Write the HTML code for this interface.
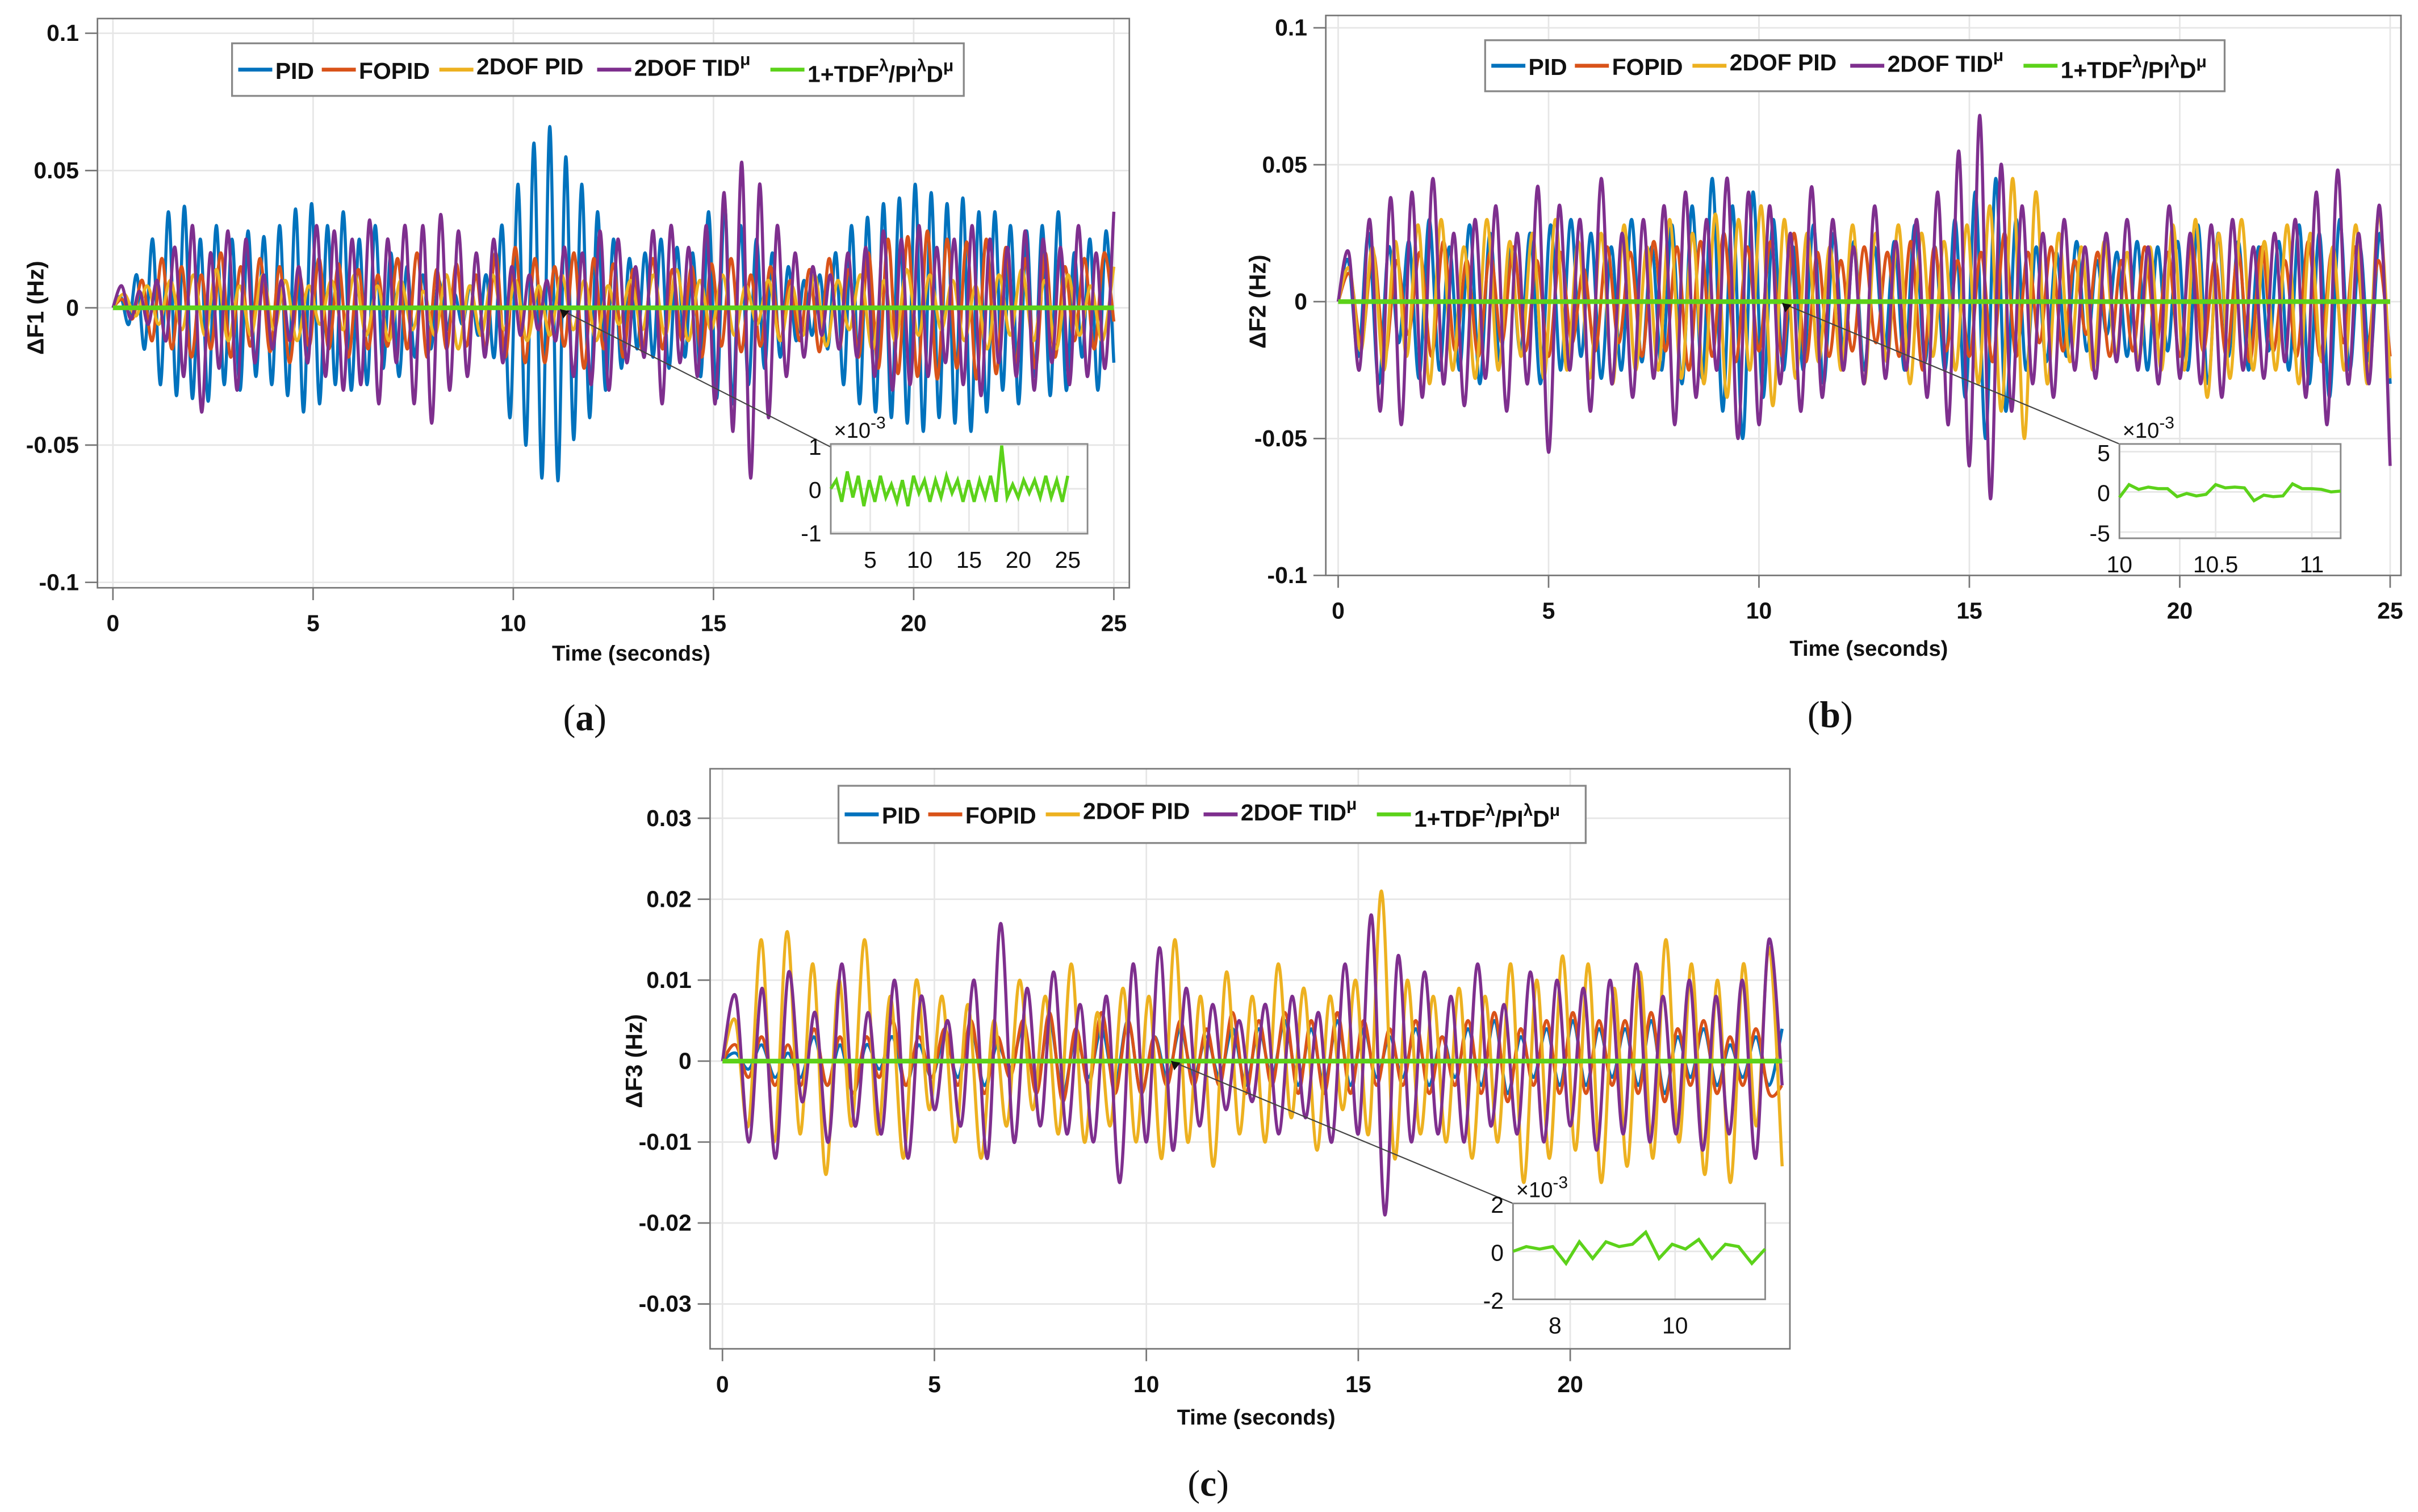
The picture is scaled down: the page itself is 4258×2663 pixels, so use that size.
<!DOCTYPE html>
<html><head><meta charset="utf-8">
<style>
html,body{margin:0;padding:0;background:#fff;}
svg{display:block;}
text{font-family:"Liberation Sans",sans-serif;fill:#111;}
.tk{font-size:15px;font-weight:bold;}
.lg{font-size:15px;font-weight:bold;}
.cap{font-family:"Liberation Serif",serif;font-size:24px;}
</style></head>
<body>
<svg id="fig" width="4258" height="2663" viewBox="0 0 1563 977.5" preserveAspectRatio="none" xmlns="http://www.w3.org/2000/svg"></svg>
<script>
// ---- data (values in units of 0.001 Hz) ----
const DURATION = 25;
const colors = ["#0072BD","#D95319","#EDB120","#7E2F8E","#5CD21A"];
const seriesNames = ["PID","FOPID","2DOF PID","2DOF TID","1+TDF/PID"];
const a_PID = [0,4,-6,12,-15,25,-28,35,-32,37,-33,25,-34,30,-28,25,-30,28,-25,26,-28,30,-32,36,-38,38,-35,30,-28,35,-30,25,-28,30,-22,20,-25,15,-18,12,-15,10,-8,5,-6,8,-10,12,-18,30,-40,45,-50,60,-62,66,-63,55,-48,45,-40,35,-30,25,-22,18,-15,20,-18,25,-22,22,-18,20,-25,35,-33,38,-35,30,-28,25,-22,20,-18,15,-12,10,-10,12,-15,20,-28,30,-35,33,-38,38,-40,40,-42,45,-45,42,-40,38,-42,40,-45,35,-38,35,-30,30,-35,28,-25,30,-32,35,-30,20,-18,25,-30,28,-20];
const a_FOPID = [0,3,-4,10,-12,18,-15,15,-18,12,-15,20,-18,15,-14,18,-16,15,-20,12,-14,18,-15,16,-18,14,-15,12,-14,18,-15,20,-18,14,-15,16,-14,12,-15,20,-18,22,-20,18,-20,15,-14,20,-22,18,-15,16,-18,14,-16,18,-15,14,-12,15,-18,16,-14,18,-16,12,-14,15,-12,10,-12,14,-16,18,-15,14,-18,20,-22,25,-24,26,-25,28,-26,25,-22,24,-26,25,-24,22,-20,18,-22,20,-18,15,-12,18,-15,20,-5];
const a_2DOF = [0,5,-3,8,-6,10,-8,12,-10,14,-12,8,-10,12,-8,10,-12,8,-6,10,-8,12,-10,8,-12,10,-8,6,-10,12,-15,8,-10,12,-8,10,-12,8,-10,12,-8,10,-12,8,-6,10,-8,12,-10,14,-12,10,-8,12,-10,8,-6,10,-12,8,-10,12,-14,10,-8,12,-15,10,-12,14,-10,12,-8,10,-12,8,-15,12,-10,14,-12,10,-15,12,-10,8,-12,15];
const a_TID = [0,8,-4,6,-6,10,-12,22,-25,30,-38,20,-22,28,-30,25,-20,12,-15,10,-12,15,-20,30,-25,28,-30,25,-28,32,-35,25,-20,30,-35,30,-42,34,-30,28,-25,20,-18,25,-20,15,-10,12,-8,10,-12,22,-25,20,-28,28,-30,25,-20,15,-18,28,-35,30,-20,22,-25,30,-35,42,-45,53,-62,45,-40,30,-25,20,-18,15,-10,12,-15,20,-18,22,-25,28,-30,25,-28,30,-25,22,-20,25,-28,30,-32,25,-20,22,-25,28,-30,25,-20,22,-28,30,-25,20,-22,35];
const b_PID = [0,15,-20,25,-30,20,-15,22,-28,30,-25,20,-25,28,-30,25,-22,20,-18,25,-30,28,-25,30,-20,25,-28,20,-25,30,-22,20,-25,28,-30,35,-28,45,-40,35,-50,40,-35,30,-25,20,-25,28,-30,25,-20,22,-25,20,-18,22,-25,28,-22,20,-25,30,-35,40,-50,45,-40,30,-25,20,-22,18,-20,22,-18,15,-12,18,-20,22,-25,20,-18,22,-25,28,-30,25,-20,22,-25,20,-18,22,-25,28,-30,25,-35,30,-25,20,-22,25,-30];
const b_FOPID = [0,10,-15,18,-20,15,-12,18,-20,22,-18,15,-20,18,-15,20,-18,15,-20,18,-15,12,-18,20,-15,18,-20,22,-18,20,-25,22,-20,25,-22,20,-18,22,-20,25,-22,18,-20,15,-18,20,-15,18,-20,22,-25,20,-18,15,-20,18,-22,25,-20,18,-15,20,-18,15,-12,18,-20,15,-18,20,-15,18,-20,22,-18,15,-20,18,-22,20,-18,15,-20,22,-20,18,-15,20,-18,15,-20];
const b_2DOF = [0,12,-18,20,-25,22,-20,28,-30,30,-25,20,-28,30,-25,22,-20,25,-28,30,-25,22,-28,25,-30,28,-25,20,-25,30,-28,25,-30,32,-35,30,-25,35,-38,30,-28,25,-22,20,-25,28,-30,25,-22,28,-30,25,-20,22,-25,28,-30,35,-40,45,-50,40,-30,25,-22,20,-25,22,-20,18,-22,20,-25,28,-25,30,-35,25,-28,30,-25,22,-25,28,-30,25,-22,20,-25,28,-30,32,-28];
const b_TID = [0,18,-25,30,-40,38,-45,40,-35,45,-30,25,-38,30,-28,35,-40,25,-30,42,-55,35,-25,30,-40,45,-30,25,-35,30,-28,35,-45,40,-35,30,-25,45,-50,40,-45,35,-30,25,-40,42,-35,30,-25,20,-30,35,-28,22,-25,30,-35,40,-45,55,-60,68,-72,50,-40,35,-30,25,-35,30,-25,20,-28,25,-22,30,-25,20,-30,35,-28,25,-30,28,-35,30,-25,20,-28,25,-22,30,-35,40,-45,48,-30,25,-30,35,-60];
const c_PID = [0,1,-1,2,-2,1,-2,3,-3,2,-4,2,-1,3,-3,2,-2,3,-2,4,-3,2,-1,4,-3,5,-4,3,-2,4,-3,5,-4,3,-2,4,-2,3,-2,4,-3,4,-2,5,-3,4,-3,5,-3,4,-2,3,-2,4,-3,3,-2,4,-3,5,-4,3,-2,4,-3,5,-3,4,-2,4,-3,5,-4,3,-2,4,-3,2,-2,3,-3,4];
const c_FOPID = [0,2,-2,3,-3,2,-3,4,-3,3,-4,3,-2,5,-3,3,-2,4,-3,5,-4,3,-2,5,-4,6,-5,4,-3,6,-4,5,-4,3,-3,5,-3,4,-3,6,-4,5,-3,6,-4,5,-4,6,-4,5,-3,4,-3,5,-4,3,-3,5,-4,6,-5,4,-3,5,-4,6,-4,5,-3,5,-4,6,-5,4,-3,5,-4,3,-3,4,-4,-3];
const c_2DOF = [0,5,-8,15,-10,16,-9,12,-14,10,-8,15,-9,8,-12,10,-6,8,-10,7,-12,5,-8,10,-6,8,-9,12,-10,6,-8,9,-10,8,-12,15,-10,8,-13,11,-9,8,-10,12,-7,9,-11,8,-6,10,-9,21,-12,10,-9,8,-10,9,-12,8,-10,12,-15,10,-12,13,-11,12,-15,9,-13,11,-12,15,-10,12,-14,10,-15,12,-8,14,-13];
const c_TID = [0,8,-10,9,-12,11,-5,6,-10,12,-8,6,-9,10,-12,8,-6,5,-8,10,-12,17,-10,9,-8,11,-9,7,-10,8,-15,12,-10,14,-11,9,-8,7,-6,5,-5,7,-9,8,-7,6,-10,12,-9,18,-19,13,-10,11,-9,8,-10,12,-8,7,-9,11,-10,10,-8,9,-11,10,-9,12,-10,8,-9,10,-11,8,-9,10,-12,15,-3];
const green_a = [0,0.2,-0.3,0.4,-0.2,0.3,-0.4,0.2,-0.3,0.3,-0.2,0.1,-0.3,0.2,-0.4,0.3,-0.1,0.2,-0.3,0.2,-0.2,0.3,-0.1,0.2,-0.3,0.2,-0.3,0.2,-0.2,0.3,-0.3,1.0,-0.2,0.1,-0.2,0.2,-0.1,0.2,-0.2,0.3,-0.2,0.2,-0.3,0.3];
const green_b = [-0.7,0.9,0.3,0.6,0.4,0.4,-0.6,-0.2,-0.5,-0.3,0.9,0.5,0.6,0.5,-1.1,-0.4,-0.6,-0.5,1.0,0.4,0.4,0.3,0.0,0.1];
const green_c = [0,0.2,0.1,0.2,-0.5,0.4,-0.3,0.4,0.2,0.3,0.8,-0.3,0.3,0.1,0.5,-0.3,0.3,0.2,-0.5,0.1];
const yTicksAB = [0.1,0.05,0,-0.05,-0.1];
const yTickLabelsAB = ["0.1","0.05","0","-0.05","-0.1"];
const yTicksC = [0.03,0.02,0.01,0,-0.01,-0.02,-0.03];
const yTickLabelsC = ["0.03","0.02","0.01","0","-0.01","-0.02","-0.03"];
const xTicks = [0,5,10,15,20,25];
const xTicksC = [0,5,10,15,20];

const NS="http://www.w3.org/2000/svg";
const svg=document.getElementById('fig');
function el(tag,attrs,parent){const e=document.createElementNS(NS,tag);for(const k in attrs)e.setAttribute(k,attrs[k]);(parent||svg).appendChild(e);return e;}
function smooth(pts){let d="M"+pts[0][0].toFixed(1)+","+pts[0][1].toFixed(1);
 for(let i=0;i<pts.length-1;i++){const p0=pts[Math.max(0,i-1)],p1=pts[i],p2=pts[i+1],p3=pts[Math.min(pts.length-1,i+2)];
  const c1=[p1[0]+(p2[0]-p0[0])/6,p1[1]+(p2[1]-p0[1])/6],c2=[p2[0]-(p3[0]-p1[0])/6,p2[1]-(p3[1]-p1[1])/6];
  d+="C"+c1[0].toFixed(1)+","+c1[1].toFixed(1)+" "+c2[0].toFixed(1)+","+c2[1].toFixed(1)+" "+p2[0].toFixed(1)+","+p2[1].toFixed(1);}
 return d;}

function panel(c){
 const g=el('g',{});
 
 
 const px=v=>c.x0+(v-c.xmin)/(c.xmax-c.xmin)*(c.x1-c.x0);
 const py=v=>c.yz-v/c.ymax*(c.yz-c.ytop);
 c.xt.forEach(t=>{el('line',{x1:px(t),x2:px(t),y1:c.by0,y2:c.by1,stroke:'#e6e6e6','stroke-width':1},g);});
 c.yt.forEach(t=>{el('line',{x1:c.bx0,x2:c.bx1,y1:py(t),y2:py(t),stroke:'#e6e6e6','stroke-width':1},g);});
 c.series.forEach((s,i)=>{
  const pts=s.map((v,j)=>[px(c.xmin+j*(c.xmax-c.xmin)/(s.length-1)), py(v/1000)]);
  const p=el('path',{d:smooth(pts),fill:'none',stroke:colors[c.ci[i]],'stroke-width':2,'stroke-linejoin':'round'},g);
  
  
 });
 const gp=el('path',{d:'M'+px(0)+','+(py(0))+' L'+px(25)+','+py(0),stroke:colors[4],'stroke-width':3,fill:'none'},g);
 
 
 el('rect',{x:c.bx0,y:c.by0,width:c.bx1-c.bx0,height:c.by1-c.by0,fill:'none',stroke:'#777','stroke-width':1},g);
 c.xt.forEach(t=>{el('line',{x1:px(t),x2:px(t),y1:c.by1,y2:c.by1+8,stroke:'#777'},g);
  const tx=el('text',{x:px(t),y:c.by1+28,'text-anchor':'middle',class:'tk'},g);tx.textContent=t;
  
  });
 c.yt.forEach((t,i)=>{el('line',{x1:c.bx0-8,x2:c.bx0,y1:py(t),y2:py(t),stroke:'#777'},g);
  const tx=el('text',{x:c.bx0-12,y:py(t)+5,'text-anchor':'end',class:'tk'},g);tx.textContent=c.yl[i];
  
  });
 const xl=el('text',{x:c.xlx,y:c.xly,'text-anchor':'middle',style:'font-size:14px;font-weight:bold'},g);xl.textContent='Time (seconds)';
 
 
 const yl=el('text',{x:0,y:0,'text-anchor':'middle',transform:'translate('+c.ylx+','+c.yz+') rotate(-90)',style:'font-size:15px;font-weight:bold'},g);yl.textContent=c.ylab;
 
 
 const cap=el('text',{x:c.capx,y:c.capy,'text-anchor':'middle',class:'cap'},g);cap.innerHTML='(<tspan font-weight="bold">'+c.cap+'</tspan>)';
 
 
 const L=c.leg;
 const lr=el('rect',{x:L.x,y:L.y,width:L.w,height:L.h,fill:'#fff',stroke:'#888','stroke-width':1.2},g);
 
 
 const labels=['PID','FOPID','2DOF PID','2DOF TID<tspan dy="-7" font-size="11">μ</tspan>','1+TDF<tspan dy="-7" font-size="11">λ</tspan><tspan dy="7">/PI</tspan><tspan dy="-7" font-size="11">λ</tspan><tspan dy="7">D</tspan><tspan dy="-7" font-size="11">μ</tspan>'];
 const dys=[0,0,-3,-2,2];
 let x=L.x+4;const my=L.y+L.h/2;
 labels.forEach((lab,i)=>{
  el('line',{x1:x,x2:x+22,y1:my,y2:my,stroke:colors[i],'stroke-width':2.5},g);
  const t=el('text',{x:x+24,y:my+6+dys[i],class:'lg'},g);t.innerHTML=lab;
  
  
  x+=24+L.wd[i];
 });
 el('line',{x1:c.arr[0],y1:c.arr[1],x2:c.arr[2],y2:c.arr[3],stroke:'#444','stroke-width':0.8},g);
 el('polygon',{points:(c.arr[0])+','+(c.arr[1])+' '+(c.arr[0]+6)+','+(c.arr[1]+1)+' '+(c.arr[0]+2)+','+(c.arr[1]+6),fill:'#111'},g);
 const I=c.ins;
 const ix=v=>I.x0+(v-I.xmin)/(I.xmax-I.xmin)*(I.x1-I.x0);
 const iy=v=>I.yz-v/I.ymax*(I.yz-I.ytop);
 const ig=el('g',{},g);
 
 
 el('rect',{x:I.x0,y:I.by0,width:I.x1-I.x0,height:I.by1-I.by0,fill:'#fff',stroke:'#888','stroke-width':1},ig);
 I.xt.forEach(t=>{el('line',{x1:ix(t),x2:ix(t),y1:I.by0,y2:I.by1,stroke:'#e6e6e6'},ig);
  const tx=el('text',{x:ix(t),y:I.by1+22,'text-anchor':'middle',class:'tk',style:'font-weight:normal;font-size:15px'},ig);tx.textContent=t;});
 I.yt.forEach(t=>{el('line',{x1:I.x0,x2:I.x1,y1:iy(t),y2:iy(t),stroke:'#e6e6e6'},ig);
  const tx=el('text',{x:I.x0-6,y:iy(t)+6,'text-anchor':'end',class:'tk',style:'font-weight:normal;font-size:15px'},ig);tx.textContent=t;});
 el('rect',{x:I.x0,y:I.by0,width:I.x1-I.x0,height:I.by1-I.by0,fill:'none',stroke:'#888','stroke-width':1},ig);
 const gd=I.data.map((v,j)=>[ix(I.dx0+j*(I.dx1-I.dx0)/(I.data.length-1)),iy(v)]);
 el('polyline',{points:gd.map(p=>p[0].toFixed(1)+','+p[1].toFixed(1)).join(' '),fill:'none',stroke:colors[4],'stroke-width':2},ig);
 const sc=el('text',{x:I.x0+2,y:I.by0-4,style:'font-size:14px'},ig);sc.innerHTML='×10<tspan dy="-6" font-size="11">-3</tspan>';
}

panel({name:'panel-a-df1',x0:73,x1:720,xmin:0,xmax:25,yz:199,ytop:21.5,ymax:0.1,bx0:63,bx1:730,by0:12,by1:380,
 xt:xTicks,yt:yTicksAB,yl:yTickLabelsAB,series:[a_PID,a_FOPID,a_2DOF,a_TID],ci:[0,1,2,3],
 xlx:408,xly:427,ylx:28,ylab:'ΔF1 (Hz)',capx:378,capy:472,cap:'a',
 leg:{x:150,y:28,w:473,h:34,wd:[30,52,78,88,112]},arr:[362,200,537,289],
 ins:{x0:537,x1:703,by0:287,by1:345,xmin:1,xmax:27,yz:316,ytop:288,ymax:1,xt:[5,10,15,20,25],yt:[1,0,-1],data:green_a,dx0:1,dx1:25}});
panel({name:'panel-b-df2',x0:865,x1:1545,xmin:0,xmax:25,yz:195,ytop:18,ymax:0.1,bx0:857,bx1:1552,by0:10,by1:372,
 xt:xTicks,yt:yTicksAB,yl:yTickLabelsAB,series:[b_PID,b_FOPID,b_2DOF,b_TID],ci:[0,1,2,3],
 xlx:1208,xly:424,ylx:818,ylab:'ΔF2 (Hz)',capx:1183,capy:470,cap:'b',
 leg:{x:960,y:26,w:478,h:33,wd:[30,52,78,88,112]},arr:[1152,196,1370,287],
 ins:{x0:1370,x1:1513,by0:287,by1:348,xmin:10,xmax:11.15,yz:318,ytop:292,ymax:5,xt:[10,10.5,11],yt:[5,0,-5],data:green_b,dx0:10,dx1:11.15}});
panel({name:'panel-c-df3',x0:467,x1:1152,xmin:0,xmax:25,yz:686,ytop:529,ymax:0.03,bx0:459,bx1:1157,by0:497,by1:872,
 xt:xTicksC,yt:yTicksC,yl:yTickLabelsC,series:[c_PID,c_FOPID,c_2DOF,c_TID],ci:[0,1,2,3],
 xlx:812,xly:921,ylx:415,ylab:'ΔF3 (Hz)',capx:781,capy:967,cap:'c',
 leg:{x:542,y:508,w:483,h:37,wd:[30,52,78,88,112]},arr:[757,686,978,778],
 ins:{x0:978,x1:1141,by0:778,by1:840,xmin:7.3,xmax:11.5,yz:809,ytop:778,ymax:2,xt:[8,10],yt:[2,0,-2],data:green_c,dx0:7.3,dx1:11.5}});
</script>
</body></html>
